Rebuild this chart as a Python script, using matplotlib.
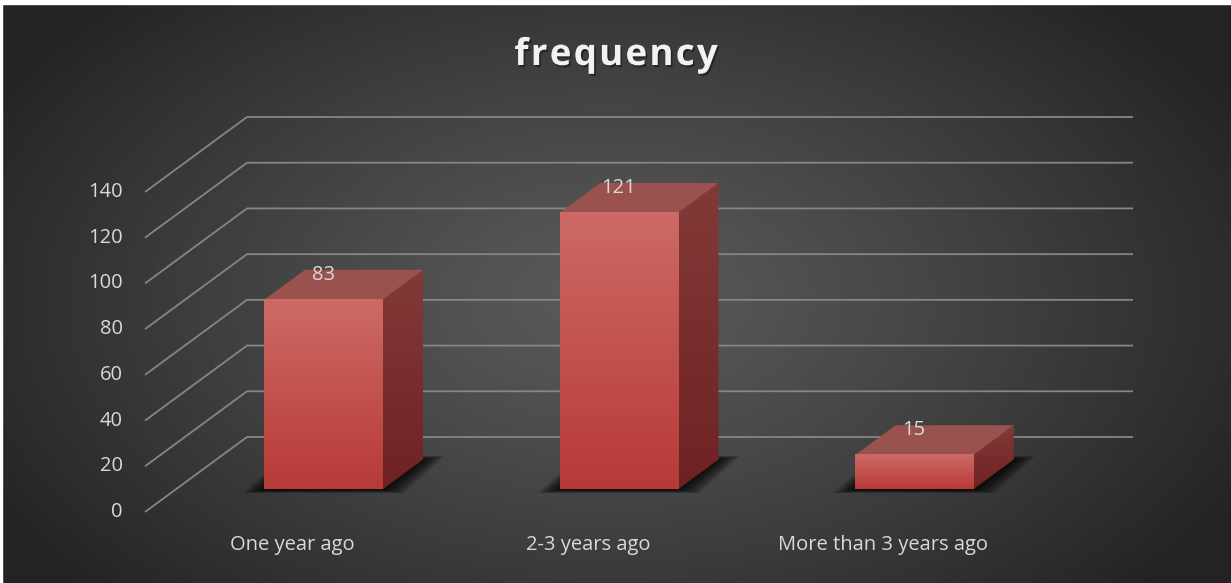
import numpy as np
import matplotlib
matplotlib.use("Agg")
import matplotlib.pyplot as plt
from matplotlib.patches import Polygon, Rectangle
import matplotlib.patheffects as pe

# ---- data -------------------------------------------------------------
categories = ["One year ago", "2-3 years ago", "More than 3 years ago"]
values = [83, 121, 15]
y_ticks = [0, 20, 40, 60, 80, 100, 120, 140]
title = "frequency"

# ---- figure geometry (pixels) -----------------------------------------
W, H = 1231, 583
FLOOR_LEFT_PX, FLOOR_RIGHT_PX = 145, 1031     # front edge of floor
ZERO_PX, TOP_PX = 512, 192                    # front-wall y of 0 and 140
DEPTH_DX_PX, DEPTH_DY_PX = 102, 75            # oblique depth offset

n = len(categories)
ppc = (FLOOR_RIGHT_PX - FLOOR_LEFT_PX) / n            # pixels per category
ppv = (ZERO_PX - TOP_PX) / (y_ticks[-1] - y_ticks[0])  # pixels per value unit
DX = DEPTH_DX_PX / ppc
DY = DEPTH_DY_PX / ppv

BAR_W = 0.4          # bar width in category units
D0, D1 = 0.3, 0.7    # bar depth range (0 = front, 1 = back wall)

FONT = "Open Sans"
TXT = "#d9d9d9"

fig = plt.figure(figsize=(W / 100, H / 100), dpi=100)

# ---- radial background -----------------------------------------------
bg = fig.add_axes([0, 0, 1, 1])
bg.set_axis_off()
yy, xx = np.mgrid[0:H, 0:W]
r = np.sqrt(((xx - 610) / 720.0) ** 2 + ((yy - 300) / 430.0) ** 2)
r = np.clip(r, 0, 1)
shade = (0x5a - (0x5a - 0x23) * r ** 1.2) / 255.0
bg.imshow(np.dstack([shade, shade, shade]), extent=[0, W, H, 0], aspect="auto",
          interpolation="bilinear")
bg.set_xlim(0, W)
bg.set_ylim(H, 0)
# thin light frame along the top and left edges
bg.add_patch(Rectangle((0, 0), W, 4, color="white", zorder=5))
bg.add_patch(Rectangle((0, 0), 2, H, color="white", zorder=5))

# ---- main 3-D-looking plot area ----------------------------------------
ax = fig.add_axes([0, 0, 1, 1])
ax.set_axis_off()
ax.patch.set_alpha(0)
xlim = (-0.5 - FLOOR_LEFT_PX / ppc, -0.5 + (W - FLOOR_LEFT_PX) / ppc)
ylim = (-(H - ZERO_PX) / ppv, ZERO_PX / ppv)

x_left, x_right = -0.5, n - 0.5

# gridlines: diagonal on the side wall, horizontal on the back wall
for t in y_ticks:
    ax.plot([x_left, x_left + DX, x_right + DX], [t, t + DY, t + DY],
            color="#868686", lw=1.3, solid_capstyle="butt", zorder=1)
    ax.annotate(str(t), (x_left, t), xytext=(-22, 0), textcoords="offset pixels",
                ha="right", va="center", fontsize=14.5, color=TXT, family=FONT)


def vgrad(top, bottom, n=64):
    a = np.array([matplotlib.colors.to_rgb(top)])
    b = np.array([matplotlib.colors.to_rgb(bottom)])
    f = np.linspace(0, 1, n)[:, None]
    return (a * (1 - f) + b * f)[:, None, :]


for i, (cat, v) in enumerate(zip(categories, values)):
    xl, xr = i - BAR_W / 2, i + BAR_W / 2
    fx0, fy0 = D0 * DX, D0 * DY
    bx0, by0 = D1 * DX, D1 * DY

    # soft shadow on the floor, built from stacked translucent footprints
    layers = 16
    for k in range(layers):
        e = 0.075 * (k + 1) / layers       # horizontal spread
        d = 1.6 * (k + 1) / layers         # spread in value units
        sh = Polygon([(xl - e + fx0, fy0 - d),
                      (xr + e + fx0, fy0 - d),
                      (xr + e + bx0, by0 + d),
                      (xl - e + bx0, by0 + d)],
                     closed=True, facecolor="black", edgecolor="none",
                     alpha=0.075, zorder=2)
        ax.add_patch(sh)

    # right side face
    side = Polygon([(xr + fx0, fy0), (xr + bx0, by0), (xr + bx0, v + by0),
                    (xr + fx0, v + fy0)], closed=True, facecolor="none",
                   edgecolor="none", zorder=3)
    ax.add_patch(side)
    im = ax.imshow(vgrad("#823a37", "#6f2223"),
                   extent=[xr + fx0, xr + bx0, fy0, v + by0],
                   aspect="auto", interpolation="bilinear", zorder=3)
    im.set_clip_path(side)

    # top face
    ax.add_patch(Polygon([(xl + fx0, v + fy0), (xr + fx0, v + fy0),
                          (xr + bx0, v + by0), (xl + bx0, v + by0)],
                         closed=True, facecolor="#99524e", edgecolor="none",
                         zorder=3))

    # front face
    ax.imshow(vgrad("#cd6a65", "#b73a37"),
              extent=[xl + fx0, xr + fx0, fy0, v + fy0],
              aspect="auto", interpolation="bilinear", zorder=4)

    # value label
    ax.annotate(str(v), (i + fx0, v + fy0), xytext=(0, 25),
                textcoords="offset pixels", ha="center", va="center",
                fontsize=14.5, color=TXT, family=FONT, zorder=6)

    # category label
    ax.annotate(cat, (i, 0), xytext=(0, -33), textcoords="offset pixels",
                ha="center", va="center", fontsize=14.5, color=TXT,
                family=FONT)

ax.set_xlim(*xlim)
ax.set_ylim(*ylim)

# ---- letter-spaced title -----------------------------------------------
renderer = fig.canvas.get_renderer()
title_kw = dict(fontsize=26.5, fontweight="bold", family=FONT, color="#f2f2f2")
spacing = 2.2  # extra pixels between letters
widths = []
for ch in title:
    t = fig.text(0, 0, ch, **title_kw)
    widths.append(t.get_window_extent(renderer).width)
    t.remove()
total = sum(widths) + spacing * (len(title) - 1)
x = 616 - total / 2
shadow = [pe.SimplePatchShadow(offset=(1.2, -1.5), shadow_rgbFace="black",
                               alpha=0.4), pe.Normal()]
for ch, w in zip(title, widths):
    fig.text(x / W, 1 - 65 / H, ch, ha="left", va="baseline",
             path_effects=shadow, **title_kw)
    x += w + spacing

fig.savefig("out.png", dpi=100)
